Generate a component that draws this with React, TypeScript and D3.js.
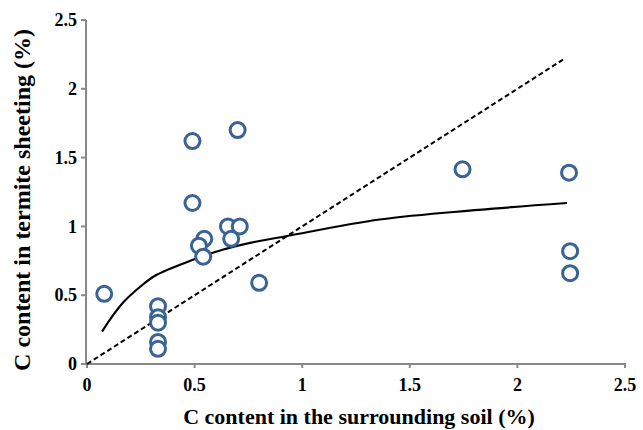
import React from 'react';
import * as d3 from 'd3';

// measured points: C in surrounding soil (%) vs C in termite sheeting (%)
const soilC = [0.08, 0.33, 0.33, 0.33, 0.33, 0.33, 0.49, 0.70, 0.49, 0.545, 0.52, 0.54, 0.655, 0.71, 0.67, 0.80, 1.745, 2.24, 2.245, 2.245];
const sheetC = [0.51, 0.42, 0.34, 0.30, 0.16, 0.11, 1.62, 1.70, 1.17, 0.91, 0.86, 0.78, 1.0, 1.0, 0.91, 0.59, 1.415, 1.39, 0.82, 0.66];

// trend curve
const trendX = [0.07, 0.11, 0.17, 0.25, 0.32, 0.48, 0.63, 0.79, 0.93, 1.36, 1.82, 2.23];
const trendY = [0.235, 0.33, 0.45, 0.565, 0.645, 0.75, 0.83, 0.89, 0.93, 1.05, 1.12, 1.17];

// 1:1 line ends
const oneToOne = [0, 2.22];

const ticks = [0, 0.5, 1, 1.5, 2, 2.5];
const tickLabels = ['0', '0.5', '1', '1.5', '2', '2.5'];

const W = 643, H = 430;
const x0 = 87, x1 = 625, y0 = 364, y1 = 20;
const font = 'Liberation Serif';
const axisColor = '#898989';

const x = d3.scaleLinear().domain([0, 2.5]).range([x0, x1]);
const y = d3.scaleLinear().domain([0, 2.5]).range([y0, y1]);

export default function App() {
  const trend = d3.line<number>()
    .x(d => x(trendX[d]))
    .y(d => y(trendY[d]))
    .curve(d3.curveCatmullRom.alpha(0.5))(d3.range(trendX.length));

  return (
    <svg width={W} height={H}
      style={{ position: 'absolute', left: 0, top: 0, background: '#fff' }}>
      {/* axes */}
      <g stroke={axisColor} strokeWidth={2}>
        <line x1={x0 - 1} x2={x0 - 1} y1={y1} y2={y0 + 1} />
        <line x1={x0 - 2} x2={x1 + 1} y1={y0} y2={y0} />
        {ticks.map(t => (
          <line key={'yt' + t} x1={x0 - 6} x2={x0 - 1} y1={y(t)} y2={y(t)} />
        ))}
        {ticks.map(t => (
          <line key={'xt' + t} x1={x(t)} x2={x(t)} y1={y0} y2={y0 + 4} />
        ))}
      </g>
      <g fontFamily={font} fontWeight="bold" fontSize={18} fill="#000">
        {ticks.map((t, i) => (
          <text key={'yl' + t} x={x0 - 10} y={y(t)} dy="0.34em" textAnchor="end">{tickLabels[i]}</text>
        ))}
        {ticks.map((t, i) => (
          <text key={'xl' + t} x={x(t)} y={y0 + 27} textAnchor="middle">{tickLabels[i]}</text>
        ))}
      </g>

      {/* 1:1 dashed line */}
      <line x1={x(oneToOne[0])} y1={y(oneToOne[0])} x2={x(oneToOne[1])} y2={y(oneToOne[1])}
        stroke="#000" strokeWidth={2} strokeDasharray="5,3" />

      {/* trend curve */}
      <path d={trend ?? ''} fill="none" stroke="#000" strokeWidth={2.2} />

      {/* points */}
      {soilC.map((v, i) => (
        <circle key={i} cx={x(v)} cy={y(sheetC[i])} r={7.5}
          fill="#fff" stroke="#3a6395" strokeWidth={3} />
      ))}

      <text x={359} y={424} textAnchor="middle" fontFamily={font} fontWeight="bold" fontSize={22}>
        C content in the surrounding soil (%)
      </text>
      <text transform="translate(30,200) rotate(-90)" textAnchor="middle"
        fontFamily={font} fontWeight="bold" fontSize={24}>
        C content in termite sheeting (%)
      </text>
    </svg>
  );
}
